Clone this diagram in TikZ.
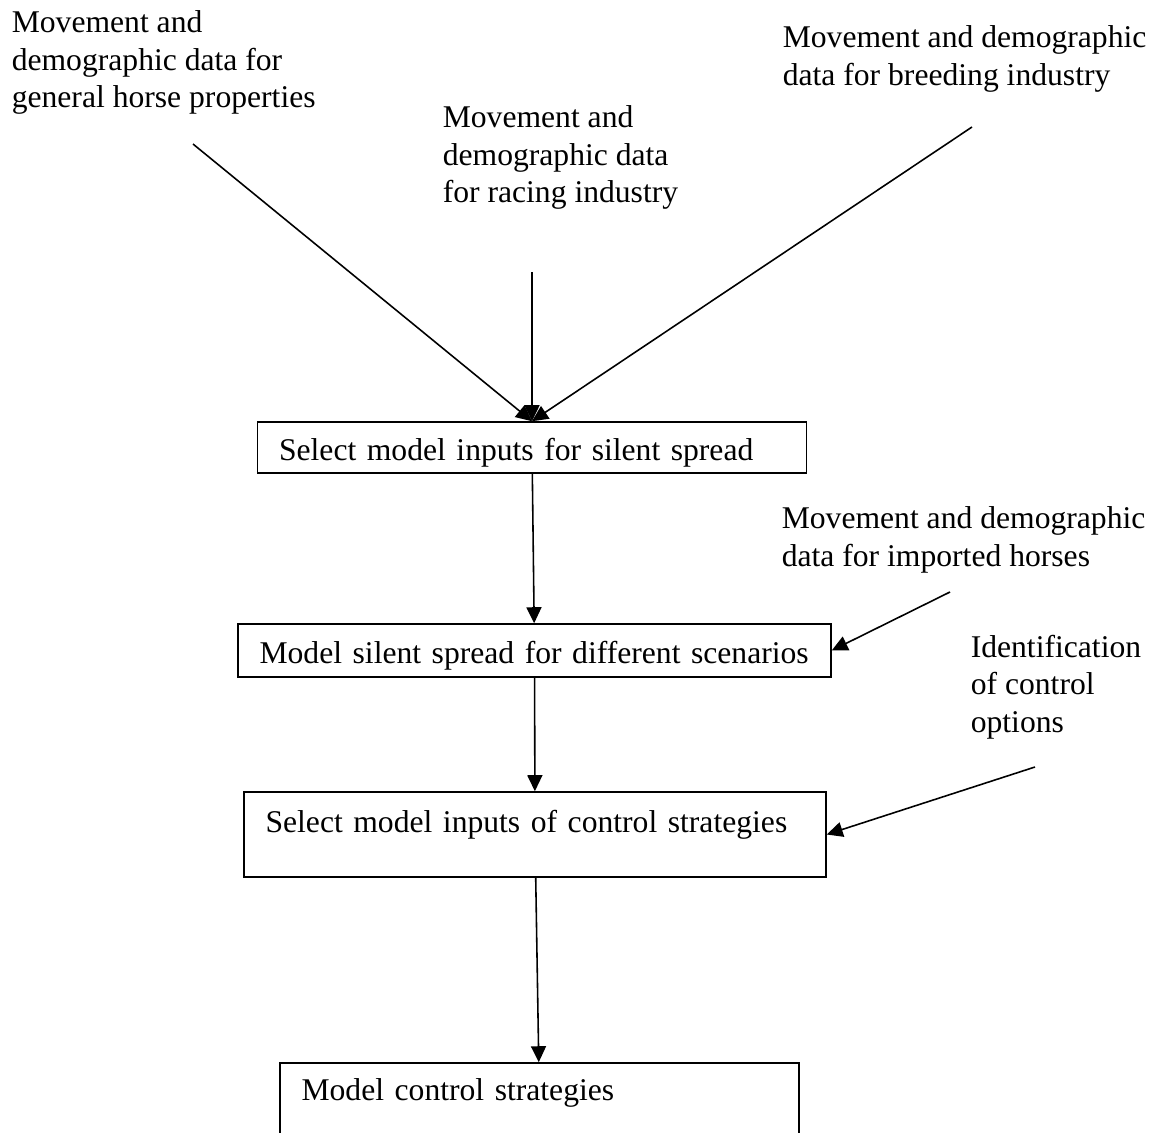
\documentclass[tikz,border=0pt]{standalone}
\usepackage{fontspec}
\setmainfont{Liberation Serif}
\usetikzlibrary{arrows.meta}

\begin{document}
\begin{tikzpicture}[x=0.02cm, y=-0.02cm,
    font=\fontsize{18}{21.34}\selectfont,
    line width=0.9pt,
    >={Triangle[length=0.32cm, width=0.3cm]},
    box/.style={draw, align=left, inner ysep=0, inner xsep=0.43cm},
    note/.style={align=left, inner sep=0, anchor=north west}]

\useasboundingbox (0,0) rectangle (1157,1133);

\node[note] (gen_data) at (11,10) {Movement and \\
                                   demographic data for \\
                                   general horse properties};

\node[note] (race_data) at (442,105) {Movement and \\
                                      demographic data \\
                                      for racing industry};

\node[note] (breed_data) at (782,25) {Movement and demographic \\
                                      data for breeding industry};

\node[note] (import_data) at (781,506) {Movement and demographic \\
                                        data for imported horses};

\node[note] (ctrl_opt) at (970,634) {Identification \\
                                     of control \\
                                     options};

\node[box,
    text width=10.12cm,
    text height=0.76cm,
    text depth=0.26cm] (select_in) at (532,447.5) {Select model inputs for silent spread};

\node[box,
    text width=11cm,
    text height=0.78cm,
    text depth=0.28cm] (silent) at (534.5,650.5) {Model silent spread for different scenarios};

\node[box,
    text width=10.78cm,
    text height=0.8cm,
    text depth=0.9cm] (select_ctrl) at (535,834.5) {Select model inputs of control strategies};

\node[box,
    text width=9.52cm,
    text height=0.74cm,
    text depth=1cm] (model_ctrl) at (539.5,1106.5) {Model control strategies};

% free ends of the input arrows
\coordinate (gen_end) at (193,144);
\coordinate (race_end) at (532,272);
\coordinate (breed_end) at (972,127);
\coordinate (import_end) at (950,592);
\coordinate (ctrl_end) at (1035,767);

\path[->] (gen_end) edge (select_in.north)
    (race_end) edge (select_in.north)
    (breed_end) edge (select_in.north)
    (select_in) edge (silent)
    (import_end) edge (silent.east)
    (silent) edge (select_ctrl)
    (ctrl_end) edge (select_ctrl.east)
    (select_ctrl) edge (model_ctrl);

\end{tikzpicture}
\end{document}
